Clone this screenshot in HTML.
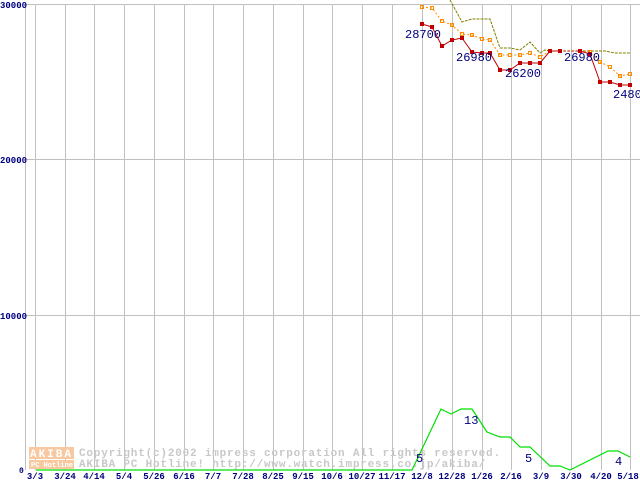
<!DOCTYPE html>
<html><head><meta charset="utf-8"><style>
html,body{margin:0;padding:0;background:#fff;width:640px;height:480px;overflow:hidden}
svg{display:block}
text{font-family:"Liberation Mono","DejaVu Sans Mono",monospace}
</style></head><body>
<svg width="640" height="480" viewBox="0 0 640 480" xmlns="http://www.w3.org/2000/svg">
<g stroke="#c0c0c0" stroke-width="1" shape-rendering="crispEdges">
<line x1="25.5" y1="4" x2="25.5" y2="470"/>
<line x1="25" y1="4.5" x2="640" y2="4.5"/>
<line x1="25" y1="159.5" x2="640" y2="159.5"/>
<line x1="25" y1="315.5" x2="640" y2="315.5"/>
<line x1="35.5" y1="4" x2="35.5" y2="470"/><line x1="65.5" y1="4" x2="65.5" y2="470"/><line x1="94.5" y1="4" x2="94.5" y2="470"/><line x1="124.5" y1="4" x2="124.5" y2="470"/><line x1="154.5" y1="4" x2="154.5" y2="470"/><line x1="184.5" y1="4" x2="184.5" y2="470"/><line x1="213.5" y1="4" x2="213.5" y2="470"/><line x1="243.5" y1="4" x2="243.5" y2="470"/><line x1="273.5" y1="4" x2="273.5" y2="470"/><line x1="303.5" y1="4" x2="303.5" y2="470"/><line x1="332.5" y1="4" x2="332.5" y2="470"/><line x1="362.5" y1="4" x2="362.5" y2="470"/><line x1="392.5" y1="4" x2="392.5" y2="470"/><line x1="422.5" y1="4" x2="422.5" y2="470"/><line x1="452.5" y1="4" x2="452.5" y2="470"/><line x1="482.5" y1="4" x2="482.5" y2="470"/><line x1="511.5" y1="4" x2="511.5" y2="470"/><line x1="541.5" y1="4" x2="541.5" y2="470"/><line x1="571.5" y1="4" x2="571.5" y2="470"/><line x1="601.5" y1="4" x2="601.5" y2="470"/><line x1="630.5" y1="4" x2="630.5" y2="470"/>
</g>
<g font-size="9" font-weight="bold" fill="#000080">
<text x="0" y="8">30000</text><text x="0" y="163">20000</text><text x="0" y="319">10000</text><text x="19" y="473" font-size="8">0</text>
</g>
<!-- watermark -->
<rect x="29" y="447" width="45" height="12" fill="#f8c8a0"/>
<rect x="29" y="460" width="45" height="9" fill="#f8c8a0"/>
<text x="30" y="457" font-size="11" font-weight="bold" fill="#fff" letter-spacing="2">AKIBA</text>
<text x="31" y="467" font-size="7" font-weight="bold" fill="#fff">PC Hotline!</text>
<text x="79" y="456" font-size="11" font-weight="bold" fill="#c8c8c8" letter-spacing="0.8">Copyright(c)2002 impress corporation All rights reserved.</text>
<text x="79" y="467" font-size="11" font-weight="bold" fill="#c8c8c8" letter-spacing="0.8">AKIBA PC Hotline!  http://www.watch.impress.co.jp/akiba/</text>
<!-- olive -->
<polyline fill="none" stroke="#808000" stroke-width="1" stroke-dasharray="3,1" points="450,0 462,22 472,19 490,19 500,48 510,48 520,50 530,42 540,53 545,50 550,51 605,51 615,53 630,53"/>
<!-- orange -->
<polyline fill="none" stroke="#ff8c00" stroke-width="1" stroke-dasharray="2,2" points="422,7 432,8 442,21 452,25 462,34 472,35 482,39 490,40 500,55 510,55 520,55 530,53 540,57 550,51 580,51 590,52 600,62 610,67 620,76 630,74"/>
<g fill="none" stroke="#ff8c00" stroke-width="1"><rect x="420.5" y="5.5" width="3" height="3"/><rect x="430.5" y="6.5" width="3" height="3"/><rect x="440.5" y="19.5" width="3" height="3"/><rect x="450.5" y="23.5" width="3" height="3"/><rect x="460.5" y="32.5" width="3" height="3"/><rect x="470.5" y="33.5" width="3" height="3"/><rect x="480.5" y="37.5" width="3" height="3"/><rect x="488.5" y="38.5" width="3" height="3"/><rect x="498.5" y="53.5" width="3" height="3"/><rect x="508.5" y="53.5" width="3" height="3"/><rect x="518.5" y="53.5" width="3" height="3"/><rect x="528.5" y="51.5" width="3" height="3"/><rect x="538.5" y="55.5" width="3" height="3"/><rect x="588.5" y="50.5" width="3" height="3"/><rect x="598.5" y="60.5" width="3" height="3"/><rect x="608.5" y="65.5" width="3" height="3"/><rect x="618.5" y="74.5" width="3" height="3"/><rect x="628.5" y="72.5" width="3" height="3"/></g>
<!-- red -->
<polyline fill="none" stroke="#c00000" stroke-width="1" points="422,24 432,27 442,46 452,40 462,38 472,52 482,53 490,53 500,70 510,70 520,63 530,63 540,63 550,51 560,51"/>
<polyline fill="none" stroke="#c00000" stroke-width="1" stroke-dasharray="2,2" points="560,51 580,51"/>
<polyline fill="none" stroke="#c00000" stroke-width="1" points="580,51 590,54 600,82 610,82 620,85 630,85"/>
<g fill="#c00000"><rect x="420" y="22" width="4" height="4"/><rect x="430" y="25" width="4" height="4"/><rect x="440" y="44" width="4" height="4"/><rect x="450" y="38" width="4" height="4"/><rect x="460" y="36" width="4" height="4"/><rect x="470" y="50" width="4" height="4"/><rect x="480" y="51" width="4" height="4"/><rect x="488" y="51" width="4" height="4"/><rect x="498" y="68" width="4" height="4"/><rect x="508" y="68" width="4" height="4"/><rect x="518" y="61" width="4" height="4"/><rect x="528" y="61" width="4" height="4"/><rect x="538" y="61" width="4" height="4"/><rect x="548" y="49" width="4" height="4"/><rect x="558" y="49" width="4" height="4"/><rect x="578" y="49" width="4" height="4"/><rect x="588" y="52" width="4" height="4"/><rect x="598" y="80" width="4" height="4"/><rect x="608" y="80" width="4" height="4"/><rect x="618" y="83" width="4" height="4"/><rect x="628" y="83" width="4" height="4"/></g>
<!-- green -->
<polyline fill="none" stroke="#00e000" stroke-width="1.2" points="36,470 412,470 441,409 451,414 461,409 472,409 487,432 500,437 510,437 520,447 530,447 550,466 560,466 570,470 608,451 618,451 630,457"/>
<g font-family="Liberation Sans,sans-serif" font-size="12" fill="#000080">
<text x="405" y="38">28700</text><text x="456" y="61">26980</text><text x="505" y="77">26200</text><text x="564" y="61">26980</text><text x="613" y="98">24800</text>
<text x="416" y="462">5</text><text x="464" y="424">13</text><text x="525" y="462">5</text><text x="615" y="465">4</text>
</g>
<g font-size="9" font-weight="bold" fill="#000080" text-anchor="middle">
<text x="35" y="479">3/3</text><text x="65" y="479">3/24</text><text x="94" y="479">4/14</text><text x="124" y="479">5/4</text><text x="154" y="479">5/26</text><text x="184" y="479">6/16</text><text x="213" y="479">7/7</text><text x="243" y="479">7/28</text><text x="273" y="479">8/25</text><text x="303" y="479">9/15</text><text x="332" y="479">10/6</text><text x="362" y="479">10/27</text><text x="392" y="479">11/17</text><text x="422" y="479">12/8</text><text x="452" y="479">12/28</text><text x="482" y="479">1/26</text><text x="511" y="479">2/16</text><text x="541" y="479">3/9</text><text x="571" y="479">3/30</text><text x="601" y="479">4/20</text><text x="628" y="479">5/18</text>
</g>
</svg>
</body></html>
